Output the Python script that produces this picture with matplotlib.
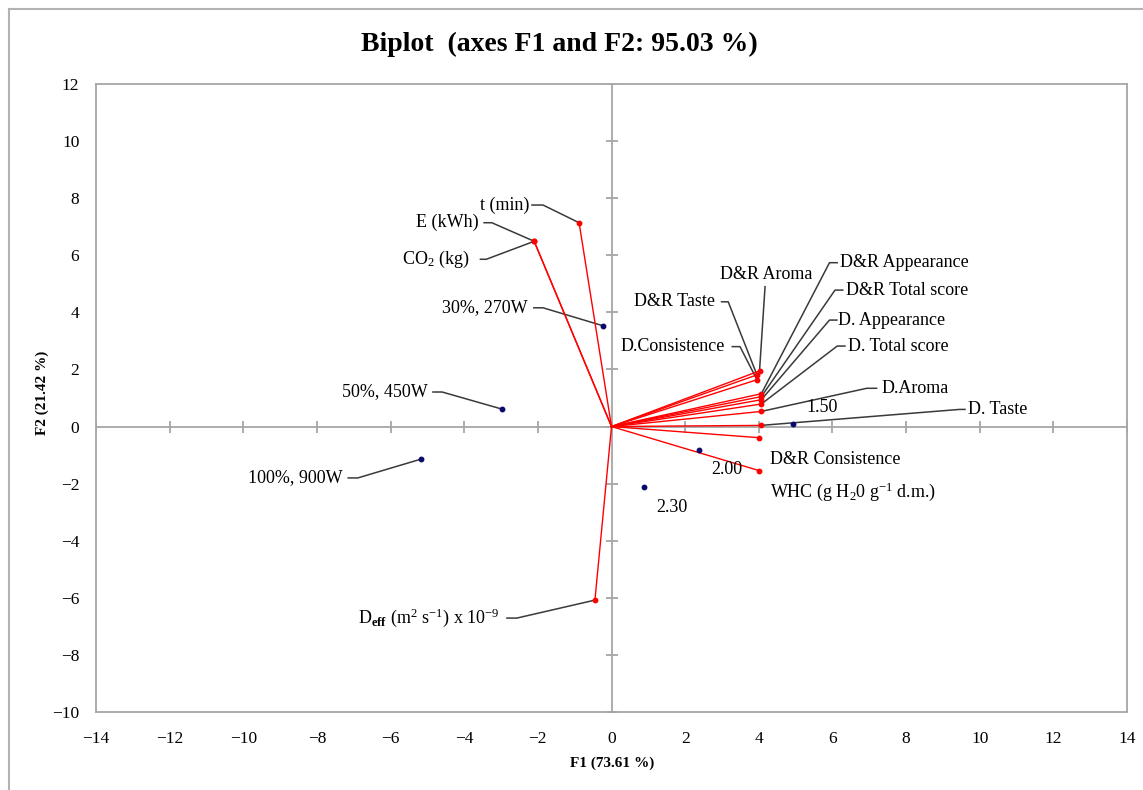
import matplotlib
matplotlib.use("Agg")
import matplotlib.pyplot as plt
from matplotlib.lines import Line2D

plt.rcParams['font.family'] = ['Liberation Serif', 'DejaVu Serif']
plt.rcParams['mathtext.fontset'] = 'custom'
plt.rcParams['mathtext.rm'] = 'Liberation Serif'
plt.rcParams['mathtext.it'] = 'Liberation Serif:italic'
plt.rcParams['mathtext.bf'] = 'Liberation Serif:bold'

# ---------------- data ----------------
var_names = ['t (min)', 'E (kWh)', 'CO$_2$ (kg)', 'D$_{\\mathbf{eff}}$ (m$^2$ s$^{-1}$) x 10$^{-9}$',
             'D&R Aroma', 'D&R Taste', 'D.Consistence',
             'D&R Appearance', 'D&R Total score', 'D. Appearance', 'D. Total score',
             'D.Aroma', 'D. Taste', 'D&R Consistence', 'WHC (g H$_2$0 g$^{-1}$ d.m.)']
var_f1 = [-0.88, -2.10, -2.10, -0.45, 4.02, 3.95, 3.95, 4.07, 4.07, 4.07, 4.07, 4.07, 4.06, 4.00, 4.00]
var_f2 = [7.14, 6.49, 6.49, -6.08, 1.95, 1.81, 1.64, 1.15, 1.05, 0.94, 0.79, 0.53, 0.04, -0.39, -1.54]

obs_names = ['30%, 270W', '50%, 450W', '100%, 900W', '1.50', '2.00', '2.30']
obs_f1 = [-0.23, -2.97, -5.17, 4.92, 2.37, 0.89]
obs_f2 = [3.53, 0.61, -1.14, 0.09, -0.82, -2.13]

x_ticks = [-14, -12, -10, -8, -6, -4, -2, 0, 2, 4, 6, 8, 10, 12, 14]
y_ticks = [-10, -8, -6, -4, -2, 0, 2, 4, 6, 8, 10, 12]

title = 'Biplot  (axes F1 and F2: 95.03 %)'
xlabel = 'F1 (73.61 %)'
ylabel = 'F2 (21.42 %)'

# ---------------- label layout: (text_x, text_y, ha, stub_start, stub_end) ----------------
var_layout = [
    (-2.24, 7.76, 'right', -2.16, -1.86),
    (-3.60, 7.14, 'right', -3.46, -3.25),
    (-3.84, 5.86, 'right', -3.56, -3.40),
    (-3.03, -6.71, 'right', -2.84, -2.57),
    (4.19, 5.31, 'center', 4.17, 4.17),
    (2.81, 4.37, 'right', 2.99, 3.17),
    (3.08, 2.80, 'right', 3.28, 3.49),
    (6.20, 5.74, 'left', 6.13, 5.92),
    (6.37, 4.78, 'left', 6.28, 6.07),
    (6.16, 3.73, 'left', 6.12, 5.92),
    (6.43, 2.82, 'left', 6.34, 6.13),
    (7.32, 1.34, 'left', 7.20, 6.93),
    (9.68, 0.60, 'left', 9.60, 9.45),
    (4.30, -1.14, 'left', None, None),
    (4.30, -2.29, 'left', None, None),
]
obs_layout = [
    (-2.29, 4.16, 'right', -2.11, -1.86),
    (-4.98, 1.21, 'right', -4.85, -4.60),
    (-7.29, -1.80, 'right', -7.15, -6.89),
    (5.71, 0.67, 'center', None, None),
    (3.13, -1.50, 'center', None, None),
    (1.64, -2.85, 'center', None, None),
]

W, H = 1143, 790
fig = plt.figure(figsize=(W / 100, H / 100), dpi=100)
ax = fig.add_axes([96 / W, 1 - 712 / H, (1127 - 96) / W, (712 - 84) / H])

gray = '#a6a6a6'
ax.set_xlim(-14, 14)
ax.set_ylim(-10, 12)
ax.set_xticks(x_ticks)
ax.set_yticks(y_ticks)
ax.set_xticklabels([('\u2212' if v < 0 else '') + str(abs(v)) for v in x_ticks])
ax.set_yticklabels([('\u2212' if v < 0 else '') + str(abs(v)) for v in y_ticks])
ax.tick_params(length=0, labelsize=12.5, pad=14)
ax.tick_params(axis='y', pad=12)
for s in ax.spines.values():
    s.set_color(gray)
    s.set_linewidth(1.3)

# central cross with tick marks
ax.axhline(0, color=gray, lw=1.3, zorder=1)
ax.axvline(0, color=gray, lw=1.3, zorder=1)
ax.plot(x_ticks, [0] * len(x_ticks), ls='none', marker='|', ms=8, mew=1.3, color=gray, zorder=1)
ax.plot([0] * len(y_ticks), y_ticks, ls='none', marker='_', ms=8, mew=1.3, color=gray, zorder=1)

lead = '#3a3a3a'
fs = 13

# variable vectors
for name, x, y, lay in zip(var_names, var_f1, var_f2, var_layout):
    ax.plot([0, x], [0, y], color='#ff0000', lw=1.0, zorder=3)
    ax.plot([x], [y], 'o', color='#ff0000', ms=3.2, zorder=4)
    tx, ty, ha, s0, s1 = lay
    if s0 is not None:
        if ha == 'center':
            ax.plot([s0, x], [ty - 0.41, y], color=lead, lw=1.1, zorder=2)
        else:
            ax.plot([s0, s1, x], [ty, ty, y], color=lead, lw=1.1, zorder=2)
    ax.text(tx, ty, name, ha=ha, va='center', fontsize=fs)

# observations
for name, x, y, lay in zip(obs_names, obs_f1, obs_f2, obs_layout):
    ax.plot([x], [y], 'o', color='#0a0a6e', ms=3.2, zorder=4)
    tx, ty, ha, s0, s1 = lay
    if s0 is not None:
        ax.plot([s0, s1, x], [ty, ty, y], color=lead, lw=1.1, zorder=2)
    ax.text(tx, ty, name, ha=ha, va='center', fontsize=fs)

fig.text(559 / W, 1 - 44 / H, title, ha='center', va='center', fontsize=20, fontweight='bold')
fig.text(612 / W, 1 - 763 / H, xlabel, ha='center', va='center', fontsize=11, fontweight='bold')
fig.text(42 / W, 1 - 393 / H, ylabel, ha='center', va='center', fontsize=11, fontweight='bold', rotation=90)

# outer frame
fig.add_artist(Line2D([8.5 / W, 8.5 / W], [0, 1 - 9 / H], transform=fig.transFigure, color='#b3b3b3', lw=1.5))
fig.add_artist(Line2D([8.5 / W, 1], [1 - 9 / H, 1 - 9 / H], transform=fig.transFigure, color='#b3b3b3', lw=1.5))

fig.savefig('out.png', dpi=100)
